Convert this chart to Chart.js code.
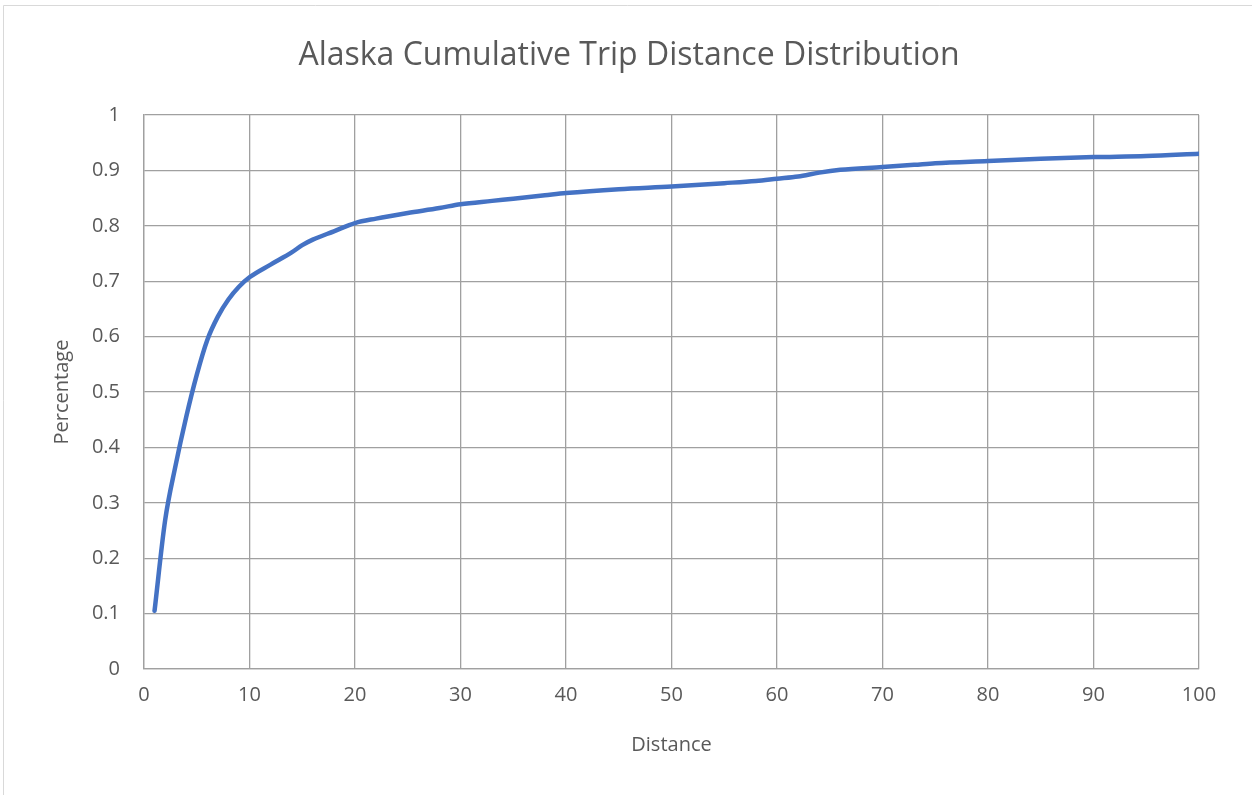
<!DOCTYPE html>
<html>
<head>
<meta charset="utf-8">
<script src="https://cdn.jsdelivr.net/npm/chart.js@4/dist/chart.umd.min.js"></script>
<style>
  html, body { margin: 0; padding: 0; background: #ffffff; }
  #wrap { width: 1252px; height: 795px; position: relative; }
</style>
</head>
<body>
<div id="wrap"><canvas id="chart"></canvas></div>
<script>
// Distance (x) and cumulative share of trips (y)
const distances = [1, 2, 3, 4, 5, 6, 7, 8, 9, 10, 12, 14, 15, 16, 18, 20, 22, 25, 28, 30,
  33, 35, 38, 40, 45, 50, 55, 58, 60, 62, 64, 66, 70, 73, 75, 80, 85, 90, 95, 100];
const cumulative = [0.105, 0.268, 0.368, 0.455, 0.531, 0.594, 0.636, 0.667, 0.69, 0.707,
  0.73, 0.752, 0.765, 0.775, 0.79, 0.805, 0.813, 0.823, 0.832, 0.839,
  0.845, 0.849, 0.855, 0.859, 0.866, 0.871, 0.877, 0.881, 0.885, 0.889,
  0.896, 0.901, 0.906, 0.91, 0.913, 0.917, 0.921, 0.924, 0.926, 0.93];

const chartTitle = 'Alaska Cumulative Trip Distance Distribution';
const xTitle = 'Distance';
const yTitle = 'Percentage';

const textColor = '#595959';
const gridColor = '#a0a0a0';
const lineColor = '#4472C4';
const fontFamily = "'Open Sans', 'Liberation Sans', sans-serif";

// light frame of the chart area (top and left edges visible in the reference) + title
const framePlugin = {
  id: 'frame',
  beforeDraw(chart) {
    const ctx = chart.ctx;
    ctx.save();
    ctx.fillStyle = '#ffffff';
    ctx.fillRect(0, 0, chart.width, chart.height);
    ctx.strokeStyle = '#d9d9d9';
    ctx.lineWidth = 1;
    ctx.beginPath();
    ctx.moveTo(3.5, chart.height);
    ctx.lineTo(3.5, 5.5);
    ctx.lineTo(chart.width, 5.5);
    ctx.stroke();
    // title sits a bit right of the plot centre, like the Excel original
    ctx.fillStyle = textColor;
    ctx.font = "32px " + fontFamily;
    ctx.textAlign = 'center';
    ctx.textBaseline = 'middle';
    ctx.fillText(chartTitle, 629, 56);
    ctx.restore();
  }
};

const points = distances.map((d, i) => ({ x: d, y: cumulative[i] }));

new Chart(document.getElementById('chart'), {
  type: 'line',
  data: {
    datasets: [{
      label: 'Cumulative',
      data: points,
      borderColor: lineColor,
      borderWidth: 4.5,
      pointRadius: 0,
      fill: false,
      cubicInterpolationMode: 'monotone',
      borderCapStyle: 'round'
    }]
  },
  options: {
    responsive: true,
    maintainAspectRatio: false,
    animation: false,
    layout: { padding: { top: 115, left: 0, right: 53, bottom: 0 } },
    plugins: {
      legend: { display: false },
      tooltip: { enabled: false },
      title: { display: false }
    },
    scales: {
      x: {
        type: 'linear',
        min: 0,
        max: 100,
        ticks: { stepSize: 10, color: textColor, padding: 14, maxRotation: 0,
          font: { family: fontFamily, size: 20 } },
        grid: { color: gridColor, lineWidth: 1.3, drawTicks: false },
        border: { color: gridColor, width: 1.3 },
        title: { display: true, text: xTitle, color: textColor,
          font: { family: fontFamily, size: 20 }, padding: { top: 0, bottom: 38 } },
        afterFit(scale) { scale.height = 126; }
      },
      y: {
        min: 0,
        max: 1,
        ticks: { stepSize: 0.1, color: textColor, padding: 24,
          font: { family: fontFamily, size: 20 },
          callback: v => String(Math.round(v * 10) / 10) },
        grid: { color: gridColor, lineWidth: 1.3, drawTicks: false },
        border: { color: gridColor, width: 1.3 },
        title: { display: true, text: yTitle, color: textColor,
          font: { family: fontFamily, size: 20 }, padding: { top: 50, bottom: 0 } },
        afterFit(scale) { scale.width = 144; }
      }
    }
  },
  plugins: [framePlugin]
});
</script>
</body>
</html>
